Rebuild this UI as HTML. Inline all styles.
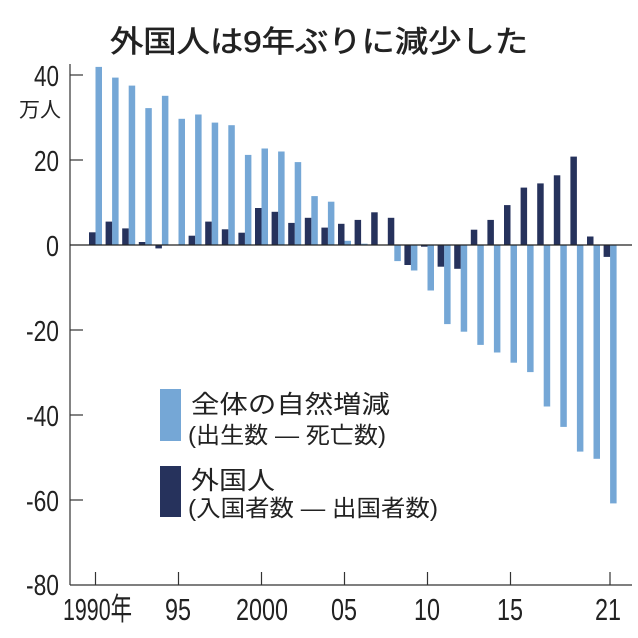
<!DOCTYPE html>
<html><head><meta charset="utf-8"><style>
html,body{margin:0;padding:0;background:#fff}
svg{display:block}
text{font-family:"Liberation Sans","Noto Sans CJK JP",sans-serif;fill:#222}
</style></head><body>
<svg width="638" height="638" viewBox="0 0 638 638" xmlns="http://www.w3.org/2000/svg">
<text x="319" y="52" text-anchor="middle" font-size="30" stroke="#222" stroke-width="0.6" textLength="418" lengthAdjust="spacingAndGlyphs">外国人は9年ぶりに減少した</text>
<g font-size="29" text-anchor="end">
<text x="59" y="86" textLength="25" lengthAdjust="spacingAndGlyphs">40</text>
<text x="59" y="171" textLength="25" lengthAdjust="spacingAndGlyphs">20</text>
<text x="59" y="256" textLength="13" lengthAdjust="spacingAndGlyphs">0</text>
<text x="59" y="341" textLength="33" lengthAdjust="spacingAndGlyphs">-20</text>
<text x="59" y="426" textLength="33" lengthAdjust="spacingAndGlyphs">-40</text>
<text x="59" y="511" textLength="33" lengthAdjust="spacingAndGlyphs">-60</text>
<text x="59" y="595" textLength="33" lengthAdjust="spacingAndGlyphs">-80</text>
</g>
<text x="61" y="117" font-size="21" text-anchor="end">万人</text>
<g stroke="#333" stroke-width="1.2">
<line x1="70" y1="64" x2="70" y2="585"/>
<line x1="70" y1="585" x2="632" y2="585"/>
<line x1="70" y1="75" x2="83" y2="75"/>
<line x1="70" y1="160" x2="83" y2="160"/>
<line x1="70" y1="330" x2="83" y2="330"/>
<line x1="70" y1="415" x2="83" y2="415"/>
<line x1="70" y1="500" x2="83" y2="500"/>
</g>
<g id="bars"></g>
<line x1="70" y1="245" x2="632" y2="245" stroke="#222" stroke-width="1.3"/>
<g stroke="#333" stroke-width="1.2">
<line x1="95.5" y1="585" x2="95.5" y2="572"/>
<line x1="178.5" y1="585" x2="178.5" y2="572"/>
<line x1="261.5" y1="585" x2="261.5" y2="572"/>
<line x1="344.5" y1="585" x2="344.5" y2="572"/>
<line x1="427.5" y1="585" x2="427.5" y2="572"/>
<line x1="510.5" y1="585" x2="510.5" y2="572"/>
<line x1="610" y1="585" x2="610" y2="572"/>
</g>
<g font-size="31">
<text x="63" y="620" textLength="69" lengthAdjust="spacingAndGlyphs">1990年</text>
<text x="165" y="620" textLength="26" lengthAdjust="spacingAndGlyphs">95</text>
<text x="236" y="620" textLength="52" lengthAdjust="spacingAndGlyphs">2000</text>
<text x="331" y="620" textLength="26" lengthAdjust="spacingAndGlyphs">05</text>
<text x="414" y="620" textLength="26" lengthAdjust="spacingAndGlyphs">10</text>
<text x="497" y="620" textLength="26" lengthAdjust="spacingAndGlyphs">15</text>
<text x="595" y="620" textLength="26" lengthAdjust="spacingAndGlyphs">21</text>
</g>
<rect x="160" y="389" width="21" height="52" fill="#75a7d6"/>
<rect x="160" y="466" width="21" height="51" fill="#26325c"/>
<g font-size="25">
<text x="191" y="413" textLength="199" lengthAdjust="spacingAndGlyphs">全体の自然増減</text>
<text x="188" y="443" font-size="23" textLength="198" lengthAdjust="spacingAndGlyphs">(出生数 ― 死亡数)</text>
<text x="191" y="489" textLength="84" lengthAdjust="spacingAndGlyphs">外国人</text>
<text x="188" y="516" font-size="23" textLength="250" lengthAdjust="spacingAndGlyphs">(入国者数 ― 出国者数)</text>
</g>
</svg>
<script>
var L=[41.9,39.4,37.5,32.2,35.1,29.7,30.7,28.8,28.2,21.2,22.7,22.0,19.5,11.5,10.2,1.0,0.3,0.1,-3.8,-6.0,-10.7,-18.6,-20.4,-23.5,-25.3,-27.7,-29.9,-38.0,-42.8,-48.6,-50.3,-60.8];
var D=[3.0,5.5,3.9,0.7,-0.8,0,2.2,5.5,3.7,2.9,8.7,7.8,5.2,6.4,4.1,5.0,5.9,7.7,6.4,-4.7,-0.4,-5.1,-5.6,3.6,5.9,9.4,13.5,14.5,16.4,20.8,2.0,-2.8];
var g=document.getElementById('bars'),s='',k=4.25;
function r(v,x0,c){var h=Math.abs(v)*k;var y=v>=0?245-h:245;return '<rect x="'+x0.toFixed(1)+'" y="'+y.toFixed(1)+'" width="6.5" height="'+h.toFixed(1)+'" fill="'+c+'"/>';}
for(var i=0;i<32;i++){var x=95.5+16.6*i;
s+=r(L[i],x,'#75a7d6');s+=r(D[i],x-6.5,'#26325c');}
g.innerHTML=s;
</script>
</body></html>
